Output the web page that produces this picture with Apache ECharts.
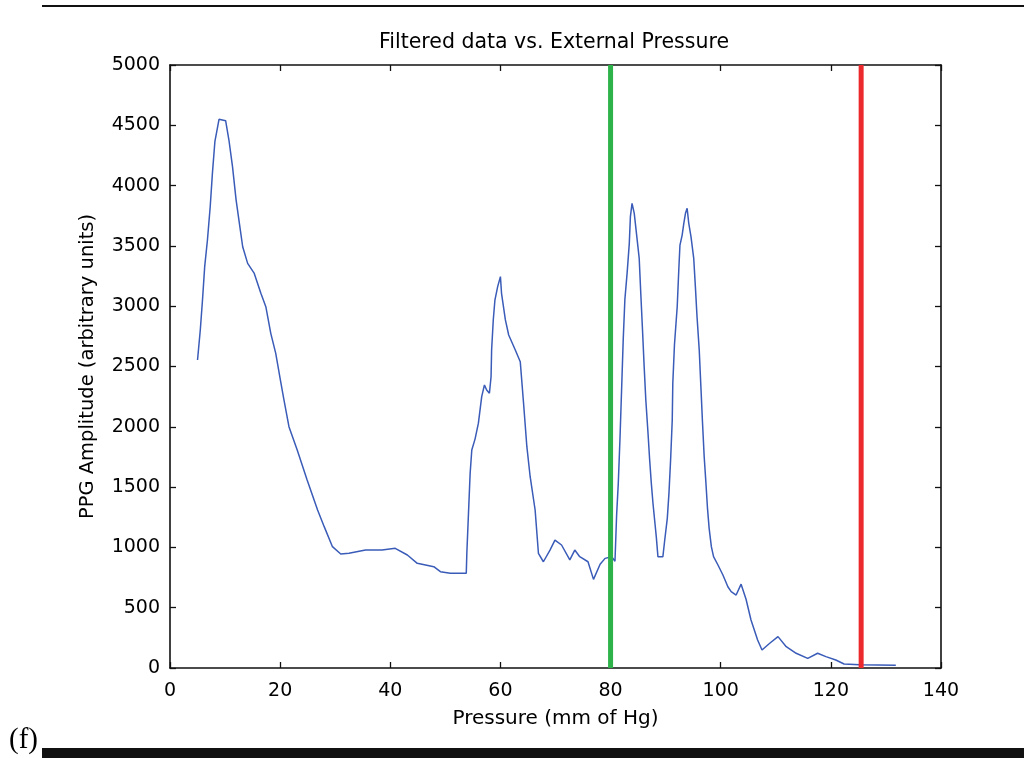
<!DOCTYPE html>
<html><head><meta charset="utf-8">
<script src="https://cdn.jsdelivr.net/npm/echarts@6/dist/echarts.min.js"></script>
<style>html,body{margin:0;padding:0;background:#fff}#c{width:1024px;height:758px}</style>
</head><body><div id="c"></div>
<script>
const titleText = 'Filtered data vs. External Pressure';
const xLabel = 'Pressure (mm of Hg)';
const yLabel = 'PPG Amplitude (arbitrary units)';
const panelLabel = '(f)';
const xTicks = [0, 20, 40, 60, 80, 100, 120, 140];
const yTicks = [0, 500, 1000, 1500, 2000, 2500, 3000, 3500, 4000, 4500, 5000];
const pressure = [5.0,5.5,5.9,6.3,6.8,7.3,7.7,8.15,8.9,10.1,10.7,11.35,12.0,12.6,13.2,14.1,15.3,16.5,17.4,18.3,19.2,20.0,20.7,21.6,23.1,24.9,26.8,28.0,29.5,31.0,32.5,35.5,38.5,40.9,43.1,44.9,47.9,49.1,50.9,53.8,53.9,54.2,54.5,54.8,55.4,56.0,56.6,57.1,57.5,58.0,58.3,58.4,58.7,59.0,59.5,60.0,60.2,60.9,61.5,62.7,63.6,64.2,64.8,65.4,66.3,66.9,67.8,69.0,69.9,71.1,72.6,73.5,74.4,75.9,76.9,78.1,79.0,80.2,80.8,81.1,81.4,81.7,82.0,82.3,82.6,83.0,83.4,83.6,83.9,84.3,84.7,85.2,85.5,85.8,86.1,86.4,86.8,87.1,87.4,87.7,88.0,88.3,88.6,89.5,89.8,90.3,90.6,90.9,91.2,91.3,91.6,92.1,92.4,92.6,93.0,93.3,93.6,93.9,94.2,94.6,95.1,95.4,95.7,96.1,96.4,96.7,97.0,97.3,97.6,97.9,98.3,98.7,99.5,100.4,101.3,101.9,102.8,103.7,104.6,105.5,106.7,107.5,108.9,110.4,111.9,113.7,115.8,117.6,119.1,120.9,122.4,125.2,131.8];
const amplitude = [2554,2803,3051,3328,3549,3825,4101,4364,4550,4538,4378,4157,3881,3687,3493,3355,3272,3107,2996,2775,2609,2400,2222,2001,1808,1559,1310,1172,1006,945,951,978,978,992,937,868,840,799,785,785,951,1283,1614,1808,1900,2030,2250,2347,2305,2278,2415,2637,2886,3051,3162,3245,3107,2886,2761,2637,2540,2195,1835,1586,1310,951,881,978,1061,1020,896,978,923,881,735,860,909,923,885,1270,1531,1891,2305,2727,3058,3272,3521,3742,3853,3770,3604,3396,3093,2803,2499,2222,1946,1725,1531,1366,1227,1089,923,923,1047,1241,1448,1725,2056,2361,2678,2996,3314,3507,3590,3687,3770,3812,3687,3577,3396,3162,2913,2637,2333,2029,1752,1545,1324,1158,1006,923,854,771,674,633,605,695,570,398,232,149,205,260,177,122,80,122,94,66,33,27,22];
const greenX = 80;
const redX = 125.5;
const xRange = [xTicks[0], xTicks[xTicks.length - 1]];
const yRange = [yTicks[0], yTicks[yTicks.length - 1]];

const chart = echarts.init(document.getElementById('c'), null, {renderer: 'canvas'});
const font = 'DejaVu Sans';
const lineData = pressure.map((p, i) => [p, amplitude[i]]);
const axisCommon = {
  axisLine: {show: true, onZero: false, lineStyle: {color: '#111', width: 1.6}},
  axisTick: {show: true, inside: true, length: 6, lineStyle: {color: '#111', width: 1.3}},
  splitLine: {show: false}
};
const tickLabel = {fontFamily: font, fontSize: 19, color: '#000', formatter: v => String(v)};
chart.setOption({
  animation: false,
  backgroundColor: '#fff',
  title: {text: titleText, left: 549, top: 27, textAlign: 'center',
    textStyle: {fontFamily: font, fontSize: 20.5, fontWeight: 'normal', color: '#000'}},
  grid: {left: 170, right: 83, top: 65, bottom: 90, containLabel: false},
  xAxis: [
    Object.assign({}, axisCommon, {type: 'value', position: 'bottom', min: xRange[0], max: xRange[1], interval: 20,
      name: xLabel, nameLocation: 'middle', nameGap: 41,
      nameTextStyle: {fontFamily: font, fontSize: 20, color: '#000'},
      axisLabel: Object.assign({}, tickLabel, {margin: 14})}),
    Object.assign({}, axisCommon, {type: 'value', position: 'top', min: xRange[0], max: xRange[1], interval: 20,
      axisLabel: {show: false}})
  ],
  yAxis: [
    Object.assign({}, axisCommon, {type: 'value', position: 'left', min: yRange[0], max: yRange[1], interval: 500,
      name: yLabel, nameLocation: 'middle', nameGap: 72, nameRotate: 90,
      nameTextStyle: {fontFamily: font, fontSize: 19.5, color: '#000'},
      axisLabel: Object.assign({}, tickLabel, {margin: 10})}),
    Object.assign({}, axisCommon, {type: 'value', position: 'right', min: yRange[0], max: yRange[1], interval: 500,
      axisLabel: {show: false}})
  ],
  series: [
    {type: 'line', data: lineData, xAxisIndex: 0, yAxisIndex: 0, showSymbol: false, symbol: 'none',
      lineStyle: {color: '#3a5cb8', width: 1.5}, z: 2},
    {type: 'line', data: [[greenX, yRange[0]], [greenX, yRange[1]]], symbol: 'none',
      lineStyle: {color: '#2db34a', width: 5}, z: 3},
    {type: 'line', data: [[redX, yRange[0]], [redX, yRange[1]]], symbol: 'none',
      lineStyle: {color: '#ec2a2e', width: 5}, z: 3}
  ],
  graphic: [
    {type: 'rect', shape: {x: 42, y: 5, width: 982, height: 2}, style: {fill: '#111'}},
    {type: 'rect', shape: {x: 42, y: 748, width: 982, height: 10}, style: {fill: '#111'}},
    {type: 'text', left: 9, top: 726, style: {text: panelLabel, fontFamily: 'Liberation Serif', fontSize: 29, fill: '#000'}}
  ]
});
</script></body></html>
